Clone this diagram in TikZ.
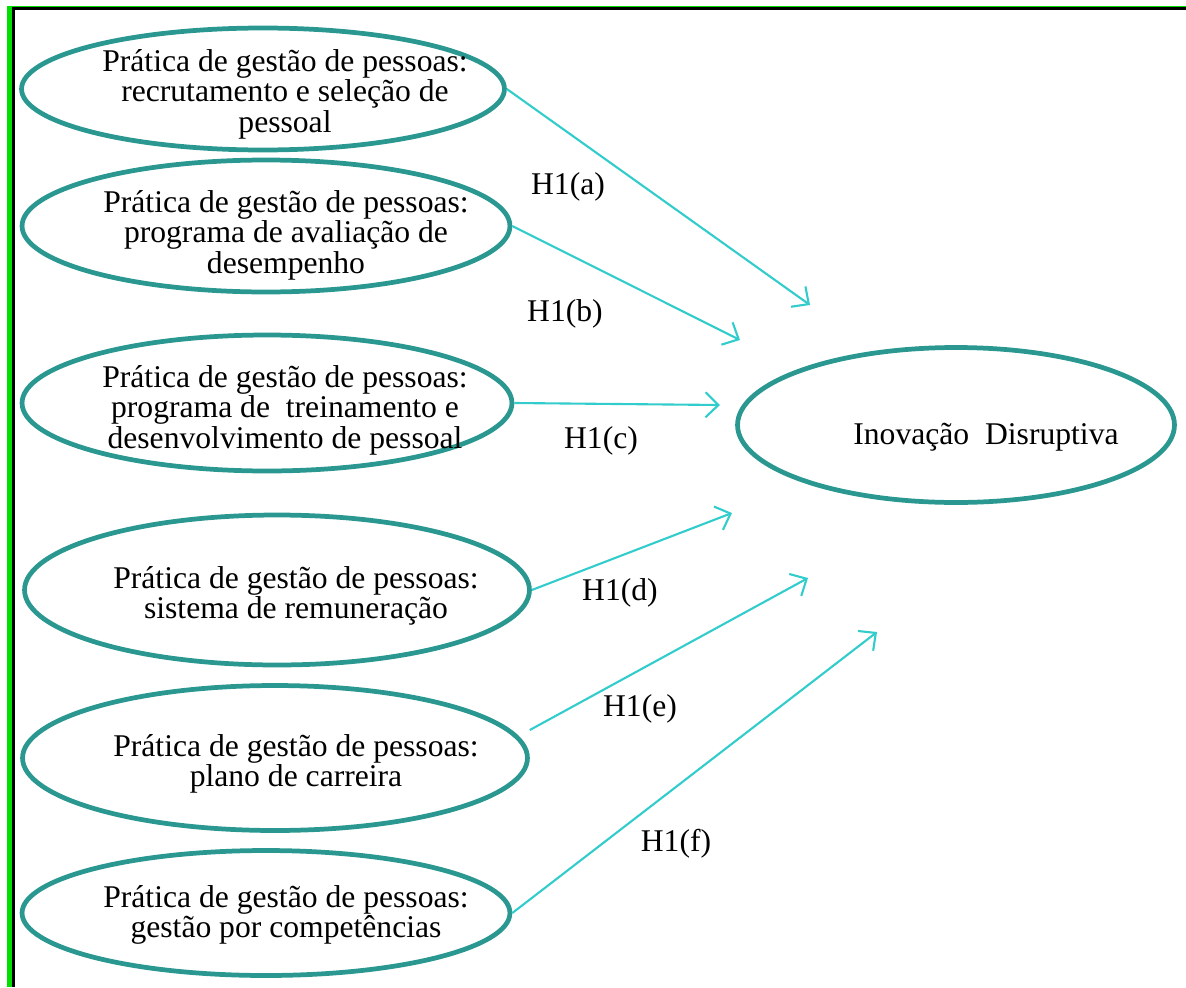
\documentclass[tikz,border=0pt]{standalone}
\usepackage{fontspec}
\setmainfont{Liberation Serif}
\usetikzlibrary{positioning, shapes.geometric, arrows.meta}
\definecolor{ellcol}{HTML}{2A9890}
\definecolor{arrcol}{HTML}{33CCCC}
\definecolor{framegreen}{HTML}{00E000}

\tikzset{
	prat/.style={ellipse, draw=ellcol, line width=2.7pt, minimum width=9.7cm, minimum height=2.5cm},
	txt/.style={align=center, font=\fontsize{18}{17.4}\selectfont},
	hip/.style={font=\fontsize{18}{17.4}\selectfont},
	seta/.style={draw=arrcol, line width=1.2pt, -{Straight Barb[length=2.6mm, width=5mm]}}
}

\begin{document}
\begin{tikzpicture}[x=0.02cm, y=-0.02cm]
		\useasboundingbox (0, 0) rectangle (1186, 987);
		% moldura
		\fill[framegreen] (7, 6) rectangle (12, 987);
		\draw[framegreen, line width=0.6pt] (12, 6.5) -- (1186, 6.5);
		\draw[black, line width=1.7pt] (13.5, 8.5) -- (13.5, 987);
		\draw[black, line width=1.7pt] (12, 8.5) -- (1186, 8.5);

		% praticas de gestao de pessoas
		\node[prat, minimum width=9.66cm, minimum height=2.44cm] (e1) at (263, 89) {};
		\node[txt] (t1) at (285, 94) {Prática de gestão de pessoas:\\recrutamento e seleção de\\pessoal};
		\node[prat, minimum width=9.76cm, minimum height=2.64cm] (e2) at (266, 226) {};
		\node[txt] (t2) at (286, 235) {Prática de gestão de pessoas:\\programa de avaliação de\\desempenho};
		\node[prat, minimum width=9.8cm, minimum height=2.72cm] (e3) at (267, 403) {};
		\node[txt] (t3) at (285, 410) {Prática de gestão de pessoas:\\ programa de\ \ treinamento e\\desenvolvimento de pessoal};
		\node[prat, minimum width=10.1cm, minimum height=3cm] (e4) at (277, 590) {};
		\node[txt] (t4) at (296, 596) {Prática de gestão de pessoas:\\sistema de remuneração};
		\node[prat, minimum width=10.1cm, minimum height=2.9cm] (e5) at (275, 758) {};
		\node[txt] (t5) at (296, 764) {Prática de gestão de pessoas:\\plano de carreira};
		\node[prat, minimum width=9.76cm, minimum height=2.5cm] (e6) at (266, 913) {};
		\node[txt] (t6) at (286, 915) {Prática de gestão de pessoas:\\gestão por competências};

		% construto dependente
		\node[prat, minimum width=8.74cm, minimum height=3.1cm] (inov) at (956, 425) {};
		\node[txt] (tinov) at (986, 437) {Inovação\ \ Disruptiva};

		% pontas livres das setas
		\coordinate (a) at (810, 305);
		\coordinate (b) at (740, 340);
		\coordinate (c) at (720, 405);
		\coordinate (d) at (732, 513);
		\coordinate (e) at (808, 578);
		\coordinate (f) at (877, 632);

		\draw[seta] (e1.east) -- (a);
		\draw[seta] (e2.east) -- (b);
		\draw[seta] (e3.east) -- (c);
		\draw[seta] (e4.east) -- (d);
		\draw[seta] (e5.east) ++(0, -28) -- (e);
		\draw[seta] (e6.east) -- (f);

		% hipoteses
		\node[hip] (ha) at (568, 187) {H1(a)};
		\node[hip] (hb) at (565, 314) {H1(b)};
		\node[hip] (hc) at (601, 441) {H1(c)};
		\node[hip] (hd) at (620, 593) {H1(d)};
		\node[hip] (he) at (640, 709) {H1(e)};
		\node[hip] (hf) at (676, 844) {H1(f)};
	\end{tikzpicture}
\end{document}
